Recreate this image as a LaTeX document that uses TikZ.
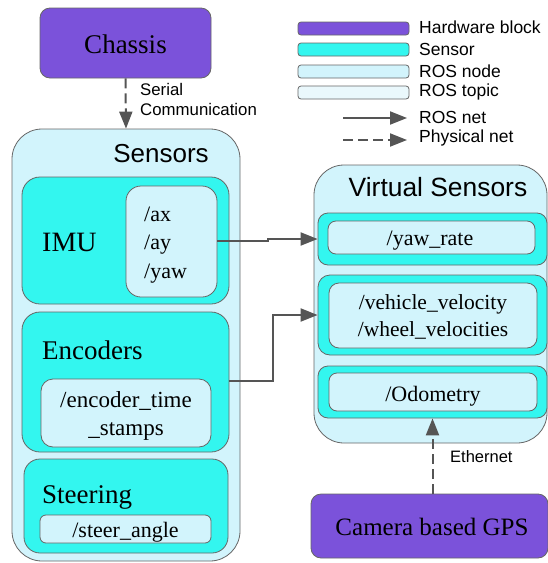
\documentclass[tikz,border=0pt]{standalone}
\usepackage{fontspec}
\setmainfont{Liberation Serif}
\newfontfamily\labelfont{Liberation Sans}
\usetikzlibrary{arrows.meta}

\definecolor{hwpurple}{HTML}{7B52DA}
\definecolor{sensorcyan}{HTML}{33F6EF}
\definecolor{rosnode}{HTML}{D2F4FC}
\definecolor{rostopic}{HTML}{EAF8FC}
\definecolor{edgegray}{HTML}{666666}
\definecolor{netgray}{HTML}{555555}

\tikzset{
  blockbox/.style={draw=edgegray, line width=0.8pt, inner sep=0pt},
  hardware/.style={blockbox, fill=hwpurple, rounded corners=10},
  sensorbox/.style={blockbox, fill=sensorcyan},
  nodebox/.style={blockbox, fill=rosnode},
  topicbox/.style={blockbox, fill=rosnode},
  rosnet/.style={draw=netgray, line width=2pt, -{Triangle[length=17pt,width=13pt]}},
  physnet/.style={rosnet, dash pattern=on 10pt off 5pt},
  serif/.style={inner sep=0pt, anchor=base, font=\fontsize{#1}{#1}\selectfont},
  sans/.style={inner sep=0pt, anchor=base west, font=\labelfont\fontsize{#1}{#1}\selectfont},
}

\begin{document}
\begin{tikzpicture}[x=1pt, y=-1pt]
\useasboundingbox (0,0) rectangle (548,563);

% ---------- hardware ----------
\node[hardware, minimum width=171pt, minimum height=70pt] (chassis) at (125.5,43) {};
\node[serif=27] at (125.5,53) {Chassis};

\node[hardware, minimum width=237pt, minimum height=64pt] (gps) at (429.5,526) {};
\node[serif=25] at (432,535) {Camera based GPS};

% ---------- sensors ----------
\node[nodebox, rounded corners=30, minimum width=228pt, minimum height=432pt] (sensors) at (126,345) {};
\node[inner sep=0pt, anchor=base, font=\labelfont\fontsize{26}{26}\selectfont] at (161,162) {Sensors};

\node[sensorbox, rounded corners=18, minimum width=207pt, minimum height=127pt] (imu) at (125.5,240.5) {};
\node[serif=28, anchor=base west] at (42,251) {IMU};
\node[topicbox, rounded corners=15, minimum width=91pt, minimum height=111pt] (imutopic) at (171.5,241.5) {};
\node[serif=22, anchor=base west] (ax) at (144,221) {/ax};
\node[serif=22, anchor=base west] (ay) at (144,249) {/ay};
\node[serif=22, anchor=base west] (yaw) at (144,278) {/yaw};

\node[sensorbox, rounded corners=18, minimum width=207pt, minimum height=140pt] (enc) at (125.5,382) {};
\node[serif=27, anchor=base west] at (42,359) {Encoders};
\node[topicbox, rounded corners=12, minimum width=170pt, minimum height=68pt] (enctopic) at (126,413) {};
\node[serif=23] at (126,407) {/encoder\_time};
\node[serif=23] at (126,435) {\_stamps};

\node[sensorbox, rounded corners=16, minimum width=204pt, minimum height=94pt] (steer) at (126,506) {};
\node[serif=27, anchor=base west] at (42,503) {Steering};
\node[topicbox, rounded corners=6, minimum width=171pt, minimum height=28pt] (steertopic) at (125.5,529) {};
\node[serif=22] at (125.5,537) {/steer\_angle};

% ---------- virtual sensors ----------
\node[nodebox, rounded corners=30, minimum width=233pt, minimum height=278pt] (virtual) at (430.5,304) {};
\node[inner sep=0pt, anchor=base, font=\labelfont\fontsize{26.4}{26.4}\selectfont] at (438,196) {Virtual Sensors};

\node[sensorbox, rounded corners=10, minimum width=229pt, minimum height=52pt] (yawout) at (432.5,239) {};
\node[topicbox, rounded corners=8, minimum width=207pt, minimum height=33pt] (yawin) at (431.5,237.5) {};
\node[serif=22] at (430,245) {/yaw\_rate};

\node[sensorbox, rounded corners=12, minimum width=229pt, minimum height=80pt] (velout) at (432.5,315) {};
\node[topicbox, rounded corners=10, minimum width=208pt, minimum height=65pt] (velin) at (433,315.5) {};
\node[serif=21.5] at (433,309) {/vehicle\_velocity};
\node[serif=21.5] at (433,336) {/wheel\_velocities};

\node[sensorbox, rounded corners=10, minimum width=229pt, minimum height=52pt] (odoout) at (432.5,392) {};
\node[topicbox, rounded corners=8, minimum width=208pt, minimum height=38pt] (odoin) at (433,392) {};
\node[serif=22] at (433,401) {/Odometry};

% ---------- connections ----------
\draw[physnet] (chassis.south) -- (sensors.north);
\node[sans=16.8] at (140,95) {Serial};
\node[sans=16.8] at (140,115) {Communication};

\draw[rosnet] (imutopic.east |- 0,241) -- (268,241) -- (268,239) -- (yawout.west);
\draw[rosnet] (enc.east |- 0,381) -- (273,381) -- (273,315) -- (velout.west);

\draw[physnet] (odoout.south |- gps.north) -- (odoout.south);
\node[sans=16.5] at (450,462) {Ethernet};

% ---------- legend ----------
\node[hardware, rounded corners=3, minimum width=111pt, minimum height=13pt] (lhw) at (353.5,28.5) {};
\node[sensorbox, rounded corners=3, minimum width=111pt, minimum height=13pt] (lsens) at (353.5,49.5) {};
\node[nodebox, rounded corners=3, minimum width=111pt, minimum height=13pt] (lnode) at (353.5,71.5) {};
\node[blockbox, fill=rostopic, rounded corners=3, minimum width=111pt, minimum height=13pt] (ltopic) at (353.5,92.5) {};
\coordinate (lrosA) at (343,118);
\coordinate (lrosB) at (407,118);
\coordinate (lphysA) at (343,140);
\coordinate (lphysB) at (407,140);
\draw[rosnet] (lrosA) -- (lrosB);
\draw[physnet] (lphysA) -- (lphysB);
\node[sans=17.5] at (419,33) {Hardware block};
\node[sans=17.5] at (419,55) {Sensor};
\node[sans=17.5] at (419,77) {ROS node};
\node[sans=17.5] at (419,96) {ROS topic};
\node[sans=17.5] at (419,123) {ROS net};
\node[sans=17.5] at (419,142) {Physical net};
\end{tikzpicture}
\end{document}
